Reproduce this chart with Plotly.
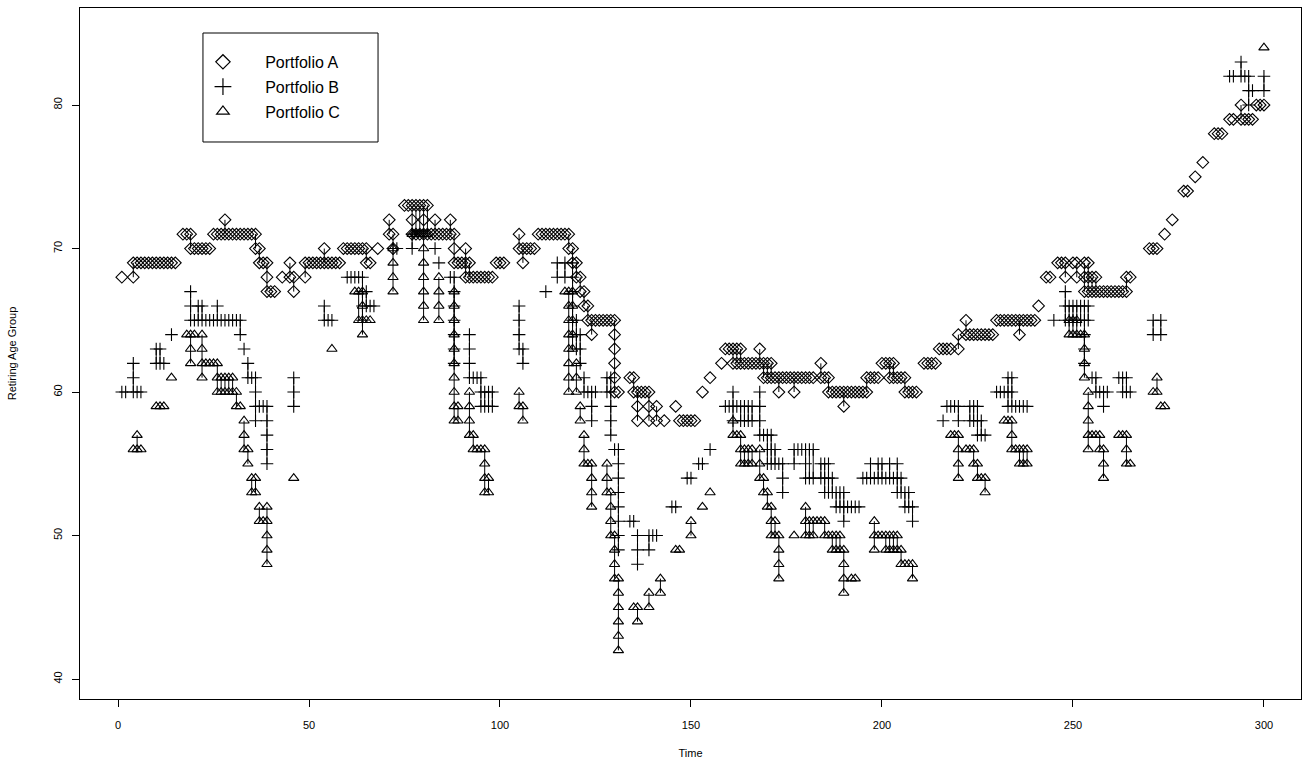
import plotly.graph_objects as go

# Portfolio A (diamonds): (time, [retiring age groups])
A_data = [
    (1,[68]),(4,[69,68]),(5,[69]),(6,[69]),(7,[69]),(8,[69]),(9,[69]),(10,[69]),(11,[69]),(12,[69]),(13,[69]),(14,[69]),(15,[69]),
    (17,[71]),(18,[71]),(19,[71,70]),(20,[70]),(21,[70]),(22,[70]),(23,[70]),(24,[70]),
    (25,[71]),(26,[71]),(27,[71]),(28,[72,71]),(29,[71]),(30,[71]),(31,[71]),(32,[71]),(33,[71]),(34,[71]),(35,[71]),
    (36,[71,70]),(37,[70,69]),(38,[69]),(39,[69,68,67]),(40,[67]),(41,[67]),(43,[68]),(45,[69,68]),(46,[68,67]),
    (49,[69,68]),(50,[69]),(51,[69]),(52,[69]),(53,[69]),(54,[70,69]),(55,[69]),(56,[69]),(57,[69]),(58,[69]),
    (59,[70]),(60,[70]),(61,[70]),(62,[70]),(63,[70]),(64,[70]),(65,[70,69]),(66,[69]),(68,[70]),
    (71,[72,71]),(72,[71,70]),(75,[73]),(76,[73]),(77,[73,72,71]),(78,[73,71]),(79,[73,71]),(80,[73,72,71]),(81,[73,71]),
    (82,[71]),(83,[72,71]),(84,[71]),(85,[71]),(86,[71]),(87,[72,71]),(88,[71,70,69]),(89,[69]),(90,[69]),(91,[70,69,68]),
    (92,[69,68]),(93,[68]),(94,[68]),(95,[68]),(96,[68]),(97,[68]),(98,[68]),(99,[69]),(100,[69]),(101,[69]),
    (105,[71,70]),(106,[70,69]),(107,[70]),(108,[70]),(109,[70]),
    (110,[71]),(111,[71]),(112,[71]),(113,[71]),(114,[71]),(115,[71]),(116,[71]),(117,[71]),(118,[71,70]),(119,[70,69]),
    (120,[69,68]),(121,[68,67]),(122,[67,66]),(123,[66,65]),(124,[65,64]),(125,[65]),(126,[65]),(127,[65]),(128,[65]),(129,[65]),
    (130,[65,64,63,62,61,60]),(131,[60]),(134,[61]),(135,[61,60]),(136,[60,59,58]),(137,[60]),(138,[60]),(139,[60,59,58]),
    (141,[59,58]),(143,[58]),(146,[59]),(147,[58]),(148,[58]),(149,[58]),(150,[58]),(151,[58]),
    (153,[60]),(155,[61]),(158,[62]),(159,[63]),(160,[63]),(161,[63,62]),(162,[63,62]),(163,[63,62]),(164,[62]),(165,[62]),
    (166,[62]),(167,[62]),(168,[63,62]),(169,[62,61]),(170,[62,61]),(171,[62,61]),(172,[61]),(173,[61,60]),(174,[61]),
    (175,[61]),(176,[61]),(177,[61,60]),(178,[61]),(179,[61]),(180,[61]),(181,[61]),(182,[61]),(184,[62,61]),(185,[61]),
    (186,[61,60]),(187,[60]),(188,[60]),(189,[60]),(190,[60,59]),(191,[60]),(192,[60]),(193,[60]),(194,[60]),(195,[60]),
    (196,[61,60]),(197,[61]),(198,[61]),(199,[61]),(200,[62]),(201,[62]),(202,[62,61]),(203,[62,61]),(204,[61]),(205,[61]),
    (206,[61,60]),(207,[60]),(208,[60]),(209,[60]),(211,[62]),(212,[62]),(213,[62]),(214,[62]),(215,[63]),(216,[63]),
    (217,[63]),(218,[63]),(220,[64,63]),(222,[65,64]),(223,[64]),(224,[64]),(225,[64]),(226,[64]),(227,[64]),(228,[64]),(229,[64]),
    (230,[65]),(231,[65]),(232,[65]),(233,[65]),(234,[65]),(235,[65]),(236,[65,64]),(237,[65]),(238,[65]),(239,[65]),(240,[65]),
    (241,[66]),(243,[68]),(244,[68]),(246,[69]),(247,[69]),(248,[69,68]),(250,[69]),(251,[69,68]),(253,[69,68,67]),
    (254,[69,68,67]),(255,[68,67]),(256,[68,67]),(257,[67]),(258,[67]),(259,[67]),(260,[67]),(261,[67]),(262,[67]),(263,[67]),
    (264,[68,67]),(265,[68]),(270,[70]),(271,[70]),(272,[70]),(274,[71]),(276,[72]),(279,[74]),(280,[74]),(282,[75]),(284,[76]),
    (287,[78]),(288,[78]),(289,[78]),(291,[79]),(292,[79]),(294,[80,79]),(295,[79]),(296,[79]),(297,[79]),(298,[80]),(299,[80]),(300,[80]),
]

# Portfolio B (crosses)
B_data = [
    (1,[60]),(2,[60]),(4,[62,61,60]),(5,[60]),(6,[60]),(10,[63,62]),(11,[63,62]),(12,[62]),(14,[64]),
    (19,[67,66,65]),(20,[65]),(21,[66,65]),(22,[66,65]),(23,[65]),(24,[65]),(25,[65]),(26,[66,65]),(27,[65]),(28,[65]),
    (29,[65]),(30,[65]),(31,[65]),(32,[65,64]),(33,[63]),(34,[62,61]),(35,[61]),(36,[61,60,59,58]),(37,[59]),(38,[59]),
    (39,[59,58,57,56,55]),(46,[61,60,59]),(54,[66,65]),(55,[65]),(56,[65]),
    (60,[68]),(61,[68]),(62,[68]),(63,[68]),(64,[68,67,66,65]),(65,[67,66]),(66,[66]),(67,[66]),
    (72,[70]),(73,[70]),(77,[71,70]),(83,[70]),(84,[69]),(87,[68]),(88,[68,67,66,65,64,63,62]),
    (92,[64,63,62,61]),(93,[61]),(94,[61]),(95,[61,60,59]),(96,[60,59]),(97,[60,59]),(98,[60,59]),
    (105,[66,65,64,63]),(106,[63,62]),(112,[67]),(115,[69,68]),(117,[69,68]),
    (119,[69,68,67,66,65]),(120,[65,64,63]),(121,[64,63,62]),(122,[61,60]),(123,[60]),(124,[60,59,58]),(125,[60]),
    (128,[61,60]),(129,[61,60,59,58,57]),(130,[56]),(131,[56,55,54,53,52,51,50,49]),
    (134,[51]),(135,[51]),(136,[50,49,48]),(139,[50,49]),(140,[50]),(141,[50]),(145,[52]),(146,[52]),(149,[54]),(150,[54]),
    (152,[55]),(153,[55]),(155,[56]),(159,[59]),(160,[59]),(161,[60,59,58]),(162,[59]),(163,[59,58]),(164,[59,58]),
    (165,[59,58]),(166,[59,58]),(168,[60,59,58,57]),(169,[57]),(170,[57,56,55]),(171,[57,56,55]),(172,[56,55]),
    (173,[55]),(174,[55,54,53]),(177,[56,55]),(178,[56]),(179,[56]),(180,[56,55,54]),(181,[56,54]),(182,[56,54]),
    (184,[55,54]),(185,[55,54,53]),(186,[55,54,53]),(187,[54,53]),(188,[53,52]),(189,[53,52]),(190,[53,52,51]),
    (191,[52]),(192,[52]),(193,[52]),(194,[52]),(195,[54]),(196,[54]),(197,[55,54]),(198,[54]),(199,[55,54]),(200,[55,54]),
    (201,[54]),(202,[55,54]),(203,[54]),(204,[55,54,53]),(205,[54,53]),(206,[53,52]),(207,[53,52]),(208,[52,51]),
    (216,[58]),(217,[59]),(218,[59]),(219,[59]),(220,[59,58]),(223,[59,58]),(224,[59,58]),(225,[59,58,57]),(226,[58,57]),(227,[57]),
    (230,[60]),(231,[60]),(232,[60]),(233,[61,60,59]),(234,[61,60,59]),(235,[59]),(236,[59]),(237,[59]),(238,[59]),
    (245,[65]),(248,[67,66,65]),(249,[66,65]),(250,[66,65]),(251,[66,65]),(252,[66,65]),(253,[66,65,64,63,62]),(254,[66,65]),
    (255,[61]),(256,[61,60]),(257,[60]),(258,[60,59]),(259,[60]),(262,[61]),(263,[61,60]),(264,[61,60]),(265,[60]),
    (271,[65,64]),(273,[65,64]),(291,[82]),(292,[82]),(294,[83,82]),(295,[82]),(296,[82,81,80]),(297,[81]),(300,[82,81]),
]

# Portfolio C (triangles)
C_data = [
    (4,[56]),(5,[57,56]),(6,[56]),(10,[59]),(11,[59]),(12,[59]),(14,[61]),
    (18,[64]),(19,[64,63,62]),(20,[64]),(22,[64,63,62,61]),(23,[62]),(24,[62]),(25,[62]),(26,[62,61,60]),(27,[61,60]),
    (28,[61,60]),(29,[61,60]),(30,[61,60]),(31,[60,59]),(32,[59]),(33,[58,57,56]),(34,[56,55]),(35,[54,53]),(36,[54,53]),
    (37,[52,51]),(38,[51]),(39,[52,51,50,49,48]),(46,[54]),(56,[63]),
    (62,[67]),(63,[67,65]),(64,[67,66,65,64]),(65,[65]),(66,[65]),(72,[70,69,68,67]),
    (77,[71]),(78,[71]),(79,[71]),(80,[71,70,69,68,67,66,65]),(81,[71]),(84,[68,67,66,65]),
    (88,[67,66,65,64,63,62,61,60,59,58]),(89,[59,58]),(92,[60,59,58,57]),(93,[57,56]),(94,[56]),(95,[56]),
    (96,[56,55,54,53]),(97,[54,53]),(105,[60,59]),(106,[59,58]),
    (117,[67]),(118,[67,66,65,64,63,62,61,60]),(119,[67,66,65,64,63]),(120,[62,61,60]),(121,[59,58]),(122,[57,56,55]),
    (123,[55]),(124,[55,54,53,52]),(128,[55,54,53]),(129,[53,52,51,50]),(130,[50,49,48,47]),(131,[47,46,45,44,43,42]),
    (135,[45]),(136,[45,44]),(139,[46,45]),(142,[47,46]),(146,[49]),(147,[49]),(150,[51,50]),(153,[52]),(155,[53]),
    (161,[58,57]),(162,[57]),(163,[57,56,55]),(164,[56,55]),(165,[56,55]),(166,[56,55]),(168,[56,55,54]),(169,[54,53]),
    (170,[53,52]),(171,[52,51,50]),(172,[51,50]),(173,[50,49,48,47]),(177,[50]),
    (180,[52,51,50]),(181,[51,50]),(182,[51,50]),(183,[51]),(184,[51]),(185,[51,50]),(186,[50]),(187,[50,49]),(188,[50,49]),
    (189,[50,49]),(190,[49,48,47,46]),(192,[47]),(193,[47]),
    (198,[51,50,49]),(199,[50]),(200,[50]),(201,[50,49]),(202,[50,49]),(203,[50,49]),(204,[50,49]),(205,[49,48]),(206,[48]),
    (207,[48]),(208,[48,47]),(218,[57]),(219,[57]),(220,[57,56,55,54]),(222,[56]),(223,[56]),(224,[56,55]),(225,[55,54]),
    (226,[54]),(227,[54,53]),(232,[58]),(233,[58]),(234,[58,57,56]),(235,[56]),(236,[56,55]),(237,[56,55]),(238,[56,55]),
    (249,[65,64]),(250,[65,64]),(251,[65,64]),(252,[64]),(253,[64,63,62,61]),(254,[60,59,58,57,56]),(255,[57]),(256,[57]),
    (257,[57,56]),(258,[56,55,54]),(262,[57]),(263,[57]),(264,[57,56,55]),(265,[55]),
    (271,[60]),(272,[61,60]),(273,[59]),(274,[59]),(300,[84]),
]

series_names = ["Portfolio A", "Portfolio B", "Portfolio C"]
symbols = ["diamond-open", "cross-thin-open", "triangle-up-open"]
sizes = [9, 9, 9]
legend_sizes = [11, 12, 11]

fig = go.Figure()
for i, (name, data, sym, sz) in enumerate(zip(series_names, [A_data, B_data, C_data], symbols, sizes)):
    xs, ys = [], []
    lx, ly = [], []
    for t, vals in data:
        for v in vals:
            xs.append(t)
            ys.append(v)
        if len(vals) > 1:
            lx += [t, t, None]
            ly += [min(vals), max(vals), None]
    fig.add_trace(go.Scatter(x=lx, y=ly, mode="lines", line=dict(color="black", width=1),
                             showlegend=False, hoverinfo="skip"))
    fig.add_trace(go.Scatter(x=xs, y=ys, mode="markers", name=name, showlegend=False,
                             marker=dict(symbol=sym, size=sz, color="black",
                                         line=dict(color="black", width=1.1))))

# legend entries (symbol keys only)
for i, (name, sym) in enumerate(zip(series_names, symbols)):
    fig.add_trace(go.Scatter(x=[None], y=[None], mode="markers", name="\u00a0" * 5 + name,
                             legendgroup="g%d" % i,
                             marker=dict(symbol=sym, size=legend_sizes[i], color="black",
                                         line=dict(color="black", width=1.2))))

font_family = "Liberation Sans, Arial, Helvetica, sans-serif"
axis_font = dict(size=11, color="black", family=font_family)
fig.update_layout(
    template="none",
    width=1308, height=776,
    paper_bgcolor="white", plot_bgcolor="white",
    margin=dict(l=80, r=7, t=8, b=77),
    font=dict(family=font_family, color="black", size=11),
    legend=dict(x=0.1007, y=0.9465, xanchor="left", yanchor="top",
                borderwidth=0, bgcolor="rgba(0,0,0,0)",
                font=dict(size=16, family=font_family, color="black"), tracegroupgap=1),
    shapes=[dict(type="rect", xref="paper", yref="paper", x0=0.1007, x1=0.2441, y0=0.8061, y1=0.9638,
                 line=dict(color="black", width=1), fillcolor="rgba(0,0,0,0)", layer="above")],
    xaxis=dict(range=[-9.95, 309.7], tickvals=[0, 50, 100, 150, 200, 250, 300],
               ticks="outside", ticklen=7, tickcolor="black", tickwidth=1, showline=True, mirror=True,
               linecolor="black", linewidth=1, showgrid=False, zeroline=False, ticklabelstandoff=9,
               tickfont=axis_font, title=dict(text="Time", font=axis_font, standoff=19)),
    yaxis=dict(range=[38.61, 86.76], tickvals=[40, 50, 60, 70, 80], tickangle=-90,
               ticks="outside", ticklen=7, tickcolor="black", tickwidth=1, showline=True, mirror=True,
               linecolor="black", linewidth=1, showgrid=False, zeroline=False, ticklabelstandoff=6,
               tickfont=axis_font, title=dict(text="Retiring Age Group", font=axis_font, standoff=32)),
)

fig.write_html("out.html")
